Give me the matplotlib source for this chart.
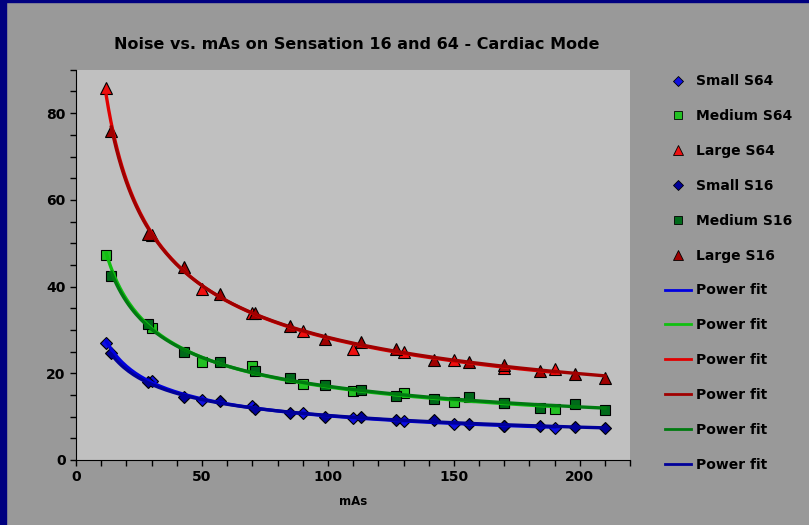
import numpy as np
import matplotlib.pyplot as plt
from matplotlib.lines import Line2D
from matplotlib.patches import Rectangle

# mAs values for each scanner
x_s64 = [12, 30, 50, 70, 90, 110, 130, 150, 170, 190]
x_s16 = [14, 28.5, 43, 57, 71, 85, 99, 113, 127, 142, 156, 170, 184, 198, 210]

# noise values
small_s64 = [26.9, 18.1, 13.9, 12.5, 10.9, 9.7, 9.0, 8.3, 7.9, 7.4]
medium_s64 = [47.3, 30.4, 22.7, 21.6, 17.6, 16.0, 15.5, 13.4, 13.2, 11.8]
large_s64 = [85.8, 52.0, 39.4, 34.0, 29.7, 25.5, 24.8, 23.0, 21.3, 21.0]

small_s16 = [24.6, 17.9, 14.4, 13.5, 11.8, 10.9, 10.0, 10.0, 9.1, 9.3, 8.3, 7.9, 7.9, 7.6, 7.4]
medium_s16 = [42.4, 31.4, 24.8, 22.5, 20.4, 18.8, 17.2, 16.2, 14.8, 14.1, 14.4, 13.2, 12.0, 12.8, 11.6]
large_s16 = [76.0, 52.2, 44.5, 38.3, 34.0, 30.8, 28.0, 27.1, 25.5, 23.0, 22.7, 21.8, 20.6, 19.9, 19.0]

series = [
    ("Small S64", x_s64, small_s64, "D", "#1010e0", 6),
    ("Medium S64", x_s64, medium_s64, "s", "#22c022", 7),
    ("Large S64", x_s64, large_s64, "^", "#ee1010", 8),
    ("Small S16", x_s16, small_s16, "D", "#000099", 6),
    ("Medium S16", x_s16, medium_s16, "s", "#006a1a", 7),
    ("Large S16", x_s16, large_s16, "^", "#a00000", 8),
]

# fit line colours, in legend order
fits = [
    (x_s64, small_s64, "#0000e0"),
    (x_s64, medium_s64, "#10c010"),
    (x_s64, large_s64, "#e00000"),
    (x_s16, large_s16, "#a00000"),
    (x_s16, medium_s16, "#007a10"),
    (x_s16, small_s16, "#000099"),
]

plt.rcParams['font.family'] = 'DejaVu Sans'
fig = plt.figure(figsize=(8.09, 5.25), dpi=100, facecolor="#999999")
fig.patches.append(Rectangle((0, 0), 0.0075, 1, transform=fig.transFigure,
                             color="#000080", zorder=0))
fig.patches.append(Rectangle((0, 0.997), 1, 0.003, transform=fig.transFigure,
                             color="#000080", zorder=0))

ax = fig.add_axes([0.094, 0.124, 0.685, 0.743])
ax.set_facecolor("#c0c0c0")

handles = []
for label, xs, ys, m, c, ms in series:
    ax.plot(xs, ys, linestyle="none", marker=m, color=c, markersize=ms,
            markeredgecolor="black", markeredgewidth=0.8, zorder=2)
    handles.append(Line2D([], [], linestyle="none", marker=m, color=c,
                          markersize=ms - 1, markeredgecolor="black",
                          markeredgewidth=0.6))

for xs, ys, c in fits:
    b, a = np.polyfit(np.log(xs), np.log(ys), 1)
    xx = np.linspace(min(xs), max(xs), 200)
    ax.plot(xx, np.exp(a) * xx ** b, color=c, lw=2.4, zorder=3)
    handles.append(Line2D([], [], color=c, lw=2))

labels = [s[0] for s in series] + ["Power fit"] * 6

ax.set_xlim(0, 220)
ax.set_ylim(0, 90)
ax.set_xticks(range(0, 201, 50))
ax.set_xticks(range(0, 221, 10), minor=True)
ax.set_yticks(range(0, 81, 20))
ax.set_yticks(range(0, 91, 5), minor=True)
ax.tick_params(which="both", direction="out", length=4, width=1, colors="black")
ax.tick_params(labelsize=10)
for t in ax.get_xticklabels() + ax.get_yticklabels():
    t.set_fontweight("bold")
for s in ["top", "right"]:
    ax.spines[s].set_visible(False)
ax.set_xlabel("mAs", fontsize=8.5, fontweight="bold", labelpad=8)

fig.text(0.441, 0.916, "Noise vs. mAs on Sensation 16 and 64 - Cardiac Mode",
         ha="center", va="center", fontsize=11.5, fontweight="bold")

fig.legend(handles, labels, loc="upper left", bbox_to_anchor=(0.806, 0.882),
           frameon=False, prop={"weight": "bold", "size": 10},
           labelspacing=1.5, handlelength=1.9, handletextpad=0.4)

fig.savefig("out.png", dpi=100, facecolor=fig.get_facecolor())
